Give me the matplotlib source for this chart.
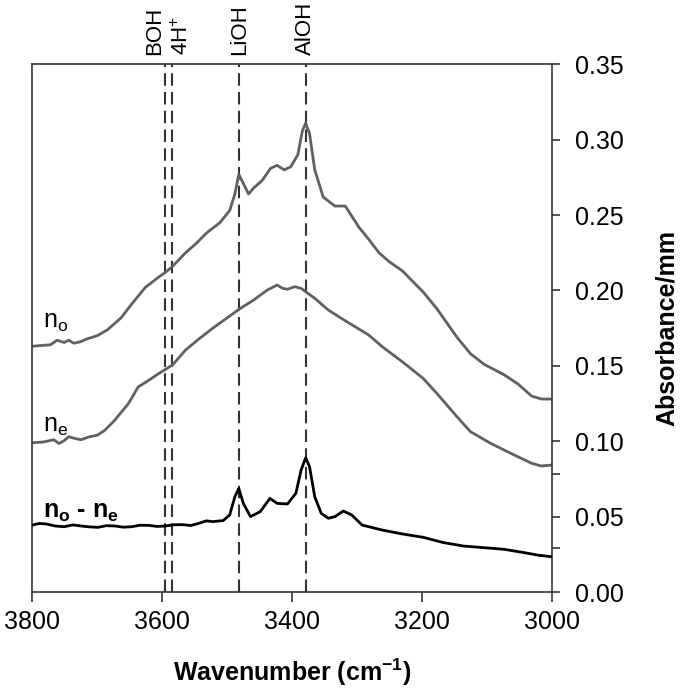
import numpy as np
import matplotlib
matplotlib.use('Agg')
import matplotlib.pyplot as plt
import matplotlib.ticker as mticker

plt.rcParams['font.family'] = ['Liberation Sans', 'DejaVu Sans']
plt.rcParams['mathtext.fontset'] = 'custom'
plt.rcParams['mathtext.rm'] = 'Liberation Sans'
plt.rcParams['mathtext.it'] = 'Liberation Sans'
plt.rcParams['mathtext.bf'] = 'Liberation Sans:bold'

# spectra (wavenumber, absorbance/mm)
wn_o = [3800, 3786, 3772, 3762, 3751, 3744, 3736, 3726, 3715, 3700, 3684, 3663,
        3647, 3626, 3605, 3595, 3584, 3564, 3548, 3532, 3511, 3496, 3488, 3482,
        3475, 3467, 3459, 3446, 3433, 3423, 3412, 3402, 3391, 3384, 3379, 3373,
        3365, 3352, 3334, 3318, 3297, 3282, 3266, 3250, 3230, 3198, 3177, 3146,
        3125, 3104, 3073, 3052, 3031, 3016, 3000]
abs_o = [0.163, 0.1635, 0.164, 0.167, 0.1655, 0.167, 0.165, 0.166, 0.168, 0.170, 0.174, 0.182,
         0.191, 0.202, 0.209, 0.212, 0.216, 0.225, 0.231, 0.238, 0.245, 0.253, 0.264, 0.277,
         0.271, 0.264, 0.268, 0.273, 0.281, 0.283, 0.280, 0.282, 0.290, 0.306, 0.311, 0.304,
         0.280, 0.262, 0.256, 0.256, 0.242, 0.234, 0.225, 0.219, 0.213, 0.199, 0.188, 0.169,
         0.158, 0.151, 0.144, 0.138, 0.130, 0.128, 0.128]

wn_e = [3799, 3783, 3767, 3759, 3751, 3744, 3736, 3725, 3712, 3700, 3689, 3673,
        3652, 3637, 3624, 3605, 3584, 3564, 3543, 3522, 3501, 3480, 3459, 3438,
        3423, 3415, 3407, 3396, 3386, 3365, 3344, 3324, 3303, 3282, 3261, 3230,
        3198, 3177, 3146, 3125, 3094, 3063, 3031, 3016, 3000]
abs_e = [0.099, 0.0995, 0.101, 0.0985, 0.1004, 0.103, 0.102, 0.101, 0.103, 0.104, 0.107, 0.114,
         0.125, 0.136, 0.1395, 0.145, 0.1506, 0.1605, 0.168, 0.175, 0.1815, 0.188, 0.1937, 0.2003,
         0.2036, 0.2015, 0.2008, 0.2025, 0.2014, 0.1948, 0.187, 0.1815, 0.176, 0.1705, 0.1627, 0.1527,
         0.1417, 0.1318, 0.1163, 0.1063, 0.0986, 0.092, 0.0854, 0.0836, 0.0842]

wn_d = [3800, 3789, 3778, 3765, 3751, 3738, 3725, 3712, 3699, 3686, 3673, 3660,
        3647, 3634, 3621, 3608, 3595, 3582, 3569, 3556, 3543, 3532, 3522, 3506,
        3496, 3488, 3482, 3475, 3464, 3449, 3434, 3423, 3407, 3394, 3386, 3379,
        3373, 3365, 3355, 3344, 3334, 3321, 3308, 3292, 3261, 3230, 3198, 3167,
        3136, 3104, 3073, 3042, 3022, 3000]
abs_d = [0.0444, 0.0455, 0.0451, 0.0438, 0.0433, 0.0445, 0.0438, 0.0432, 0.0429, 0.0440, 0.0438, 0.0430,
         0.0433, 0.0443, 0.0442, 0.0435, 0.0438, 0.0446, 0.0447, 0.0441, 0.0456, 0.0472, 0.0467, 0.0474,
         0.0511, 0.0632, 0.0687, 0.0588, 0.050, 0.0533, 0.0621, 0.0588, 0.0584, 0.0655, 0.0809, 0.089,
         0.0831, 0.0632, 0.0522, 0.0489, 0.050, 0.0537, 0.0511, 0.0444, 0.0411, 0.0385, 0.0363, 0.0328,
         0.0305, 0.0294, 0.0283, 0.0261, 0.0245, 0.0234]

band_pos = [3596, 3585, 3481, 3379]
band_lab = ['BOH', '4H$^{+}$', 'LiOH', 'AlOH']
band_ha = ['right', 'left', 'center', 'center']

fig = plt.figure(figsize=(6.85, 6.96), dpi=100)
ax = fig.add_axes([0.0472, 0.1494, 0.7582, 0.7582])

for x in band_pos:
    ax.axvline(x, color='#333333', lw=1.5, dashes=(6, 3), zorder=1)

ax.plot(wn_o, abs_o, color='#606060', lw=2.0, zorder=2)
ax.plot(wn_e, abs_e, color='#606060', lw=2.0, zorder=2)
ax.plot(wn_d, abs_d, color='black', lw=2.0, zorder=3)

for x, lab, ha in zip(band_pos, band_lab, band_ha):
    ax.annotate(lab, xy=(x, 1.0), xycoords=('data', 'axes fraction'),
                xytext=(0, 7), textcoords='offset points', rotation=90,
                ha=ha, va='bottom', fontsize=16)

ax.text(3784, 0.175, r'n$_\mathrm{o}$', fontsize=18)
ax.text(3784, 0.106, r'n$_\mathrm{e}$', fontsize=18)
ax.text(3784, 0.049, r'$\mathbf{n}_\mathbf{o}$ - $\mathbf{n}_\mathbf{e}$', fontsize=18,
        fontweight='bold')

ax.set_xlim(3800, 3000)
ax.set_ylim(0, 0.35)
ax.set_xticks([3800, 3600, 3400, 3200, 3000])
ax.yaxis.tick_right()
ax.yaxis.set_label_position('right')
ax.set_yticks(np.arange(0, 0.351, 0.05))
ax.yaxis.set_major_formatter(mticker.FormatStrFormatter('%.2f'))
ax.set_yticks([0.029, 0.078], minor=True)
ax.tick_params(axis='y', which='both', direction='out', length=6, width=1.2,
               color='#333333', labelsize=18, pad=11)
ax.tick_params(axis='x', direction='out', length=7, width=1.2, color='#333333',
               labelsize=18, pad=6)
for t in ax.yaxis.get_major_ticks():
    if abs(t.get_loc() - 0.05) < 1e-6 or abs(t.get_loc() - 0.10) < 1e-6:
        t.tick2line.set_visible(False)
for s in ax.spines.values():
    s.set_color('#333333')
    s.set_linewidth(1.2)

ax.set_xlabel('Wavenumber (cm$^{\\mathbf{-1}}$)', fontsize=18, fontweight='bold', labelpad=16)
ax.set_ylabel('Absorbance/mm', fontsize=18, fontweight='bold', labelpad=22)

fig.savefig('out.png', dpi=100)
